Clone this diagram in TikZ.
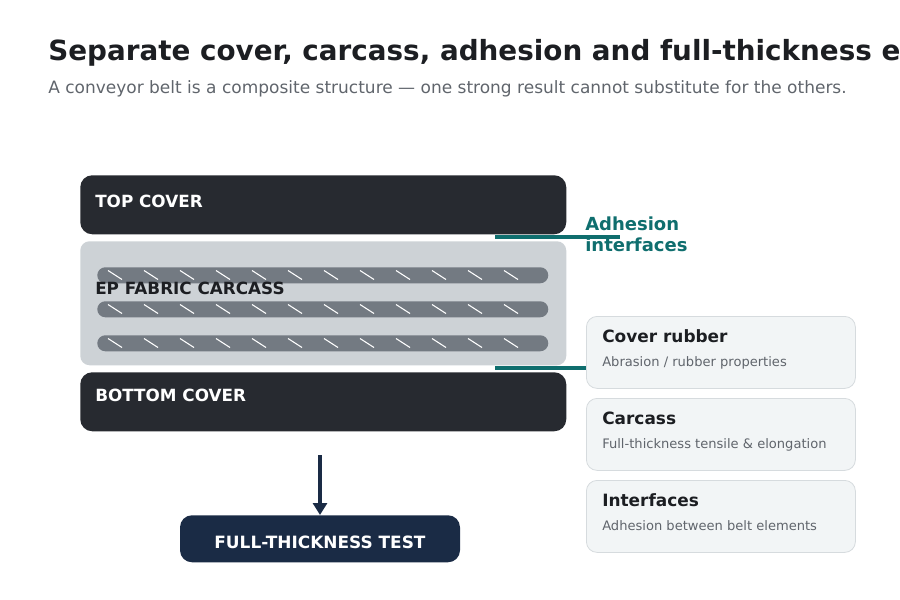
\documentclass[tikz,border=0pt]{standalone}
\usepackage{fontspec}
\setmainfont{DejaVu Sans}
\usetikzlibrary{arrows.meta}
\definecolor{ink}{HTML}{1C1E22}
\definecolor{greytext}{HTML}{60656C}
\definecolor{rubber}{HTML}{272A30}
\definecolor{fabric}{HTML}{CDD2D6}
\definecolor{plygrey}{HTML}{737A82}
\definecolor{teal}{HTML}{0F6E6E}
\definecolor{navy}{HTML}{1A2B45}
\definecolor{cardfill}{HTML}{F2F5F6}
\definecolor{cardline}{HTML}{D6DBDE}
\tikzset{
  layer/.style={anchor=north west, rounded corners=9pt, minimum width=364.5pt, inner sep=0pt},
  ply/.style={anchor=north west, fill=plygrey, rounded corners=6pt, minimum width=338.25pt, minimum height=12pt, inner sep=0pt},
  layertext/.style={anchor=west, inner sep=0pt, font=\bfseries\fontsize{12.6}{14}\selectfont},
  card/.style={anchor=north west, fill=cardfill, draw=cardline, line width=0.6pt, rounded corners=8pt, minimum width=201.75pt, minimum height=54pt, inner sep=0pt},
  cardhead/.style={anchor=base west, inner sep=0pt, text=ink, font=\bfseries\fontsize{12.7}{14}\selectfont},
  cardsub/.style={anchor=base west, inner sep=0pt, text=greytext, font=\fontsize{9.8}{12}\selectfont},
  bond/.style={draw=teal, line width=2.4pt},
  hatch/.style={draw=white, line width=0.8pt}
}
\begin{document}
\begin{tikzpicture}[x=0.75pt, y=-0.75pt]
  \useasboundingbox (0,0) rectangle (900,600);
  \node[anchor=base west, text=ink, font=\bfseries\fontsize{20.85}{24}\selectfont, inner sep=0pt] (title) at (48,60) {Separate cover, carcass, adhesion and full-thickness evidence};
  \node[anchor=base west, text=greytext, font=\fontsize{12.75}{15}\selectfont, inner sep=0pt] (subtitle) at (48,93) {A conveyor belt is a composite structure — one strong result cannot substitute for the others.};

  % belt layers
  \node[layer, fill=rubber, minimum height=44.25pt] (top) at (80,175) {};
  \node[layer, fill=fabric, minimum height=93pt, rounded corners=7pt] (carcass) at (80,241) {};
  \node[layer, fill=rubber, minimum height=44.25pt] (bottom) at (80,372) {};
  \node[ply] (ply1) at (97,267) {};
  \node[ply] (ply2) at (97,301) {};
  \node[ply] (ply3) at (97,335) {};
  \foreach \y in {267,301,335}
    \foreach \x in {108,144,...,504}
      \draw[hatch] (\x,\y+3.5) -- (\x+14,\y+12.5);
  \node[layertext, text=white] (toplabel) at (95,201) {TOP COVER};
  \node[layertext, text=ink] (carcasslabel) at (95,288) {EP FABRIC CARCASS};
  \node[layertext, text=white] (bottomlabel) at (95,395) {BOTTOM COVER};

  % adhesion interfaces
  \coordinate (bondA) at (495,237);
  \coordinate (bondAend) at (620,237);
  \coordinate (bondB) at (495,368);
  \coordinate (bondBend) at (586,368);
  \draw[bond] (bondA) to (bondAend);
  \draw[bond] (bondB) to (bondBend);
  \node[anchor=base west, align=left, text=teal, font=\bfseries\fontsize{13.5}{15.75}\selectfont, inner sep=0pt] (adhesion) at (585,251) {Adhesion\\interfaces};

  % test cards
  \node[card] (cover) at (586,316) {};
  \node[card] (carc) at (586,398) {};
  \node[card] (inter) at (586,480) {};
  \node[cardhead] (coverhead) at (602,342) {Cover rubber};
  \node[cardsub] (coversub) at (602,366) {Abrasion / rubber properties};
  \node[cardhead] (carchead) at (602,424) {Carcass};
  \node[cardsub] (carcsub) at (602,448) {Full-thickness tensile \& elongation};
  \node[cardhead] (interhead) at (602,506) {Interfaces};
  \node[cardsub] (intersub) at (602,530) {Adhesion between belt elements};

  % full thickness
  \node[anchor=north, fill=navy, rounded corners=9pt, minimum width=210pt, minimum height=35.25pt] (test) at (320,515) {};
  \node[text=white, inner sep=0pt, font=\bfseries\fontsize{12.7}{14}\selectfont] (testlabel) at (320,542) {FULL-THICKNESS TEST};
  \coordinate (arrowtop) at (320,455);
  \draw[navy, line width=2.3pt, -{Triangle[width=10.5pt,length=9pt]}] (arrowtop) to (test.north);
\end{tikzpicture}
\end{document}
